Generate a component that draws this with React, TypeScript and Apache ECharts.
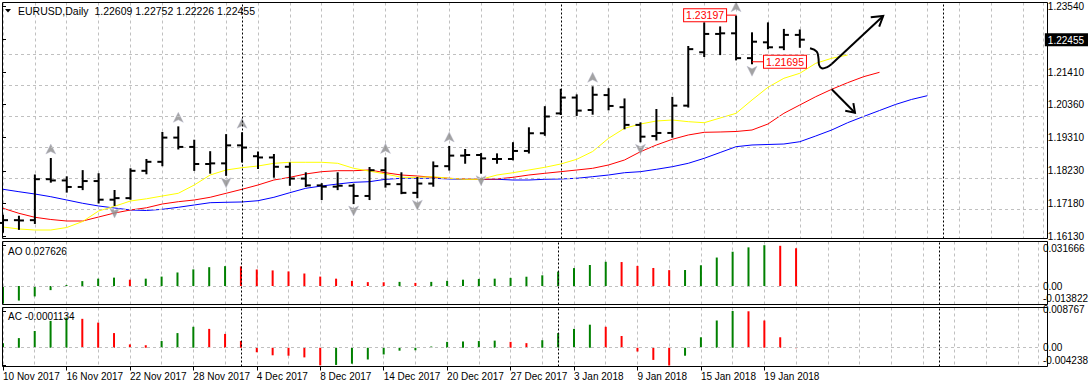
import React, { useEffect, useRef } from 'react';
import * as echarts from 'echarts';

// ---------- DATA ----------
const opens = [1.1655, 1.1664, 1.1664, 1.1796, 1.1792, 1.1771, 1.1790, 1.1730, 1.1735, 1.1823, 1.1852, 1.1930, 1.1900, 1.1845, 1.1847, 1.1905, 1.1870, 1.1866, 1.1836, 1.1798, 1.1776, 1.1772, 1.1775, 1.1742, 1.1825, 1.1780, 1.1752, 1.1782, 1.1838, 1.1872, 1.1874, 1.1861, 1.1861, 1.1887, 1.1944, 1.2008, 1.2059, 1.2019, 1.2067, 1.2028, 1.1971, 1.1935, 1.1945, 1.2033, 1.2205, 1.2264, 1.2266, 1.2186, 1.2237, 1.2221, 1.22609];
const highs = [1.1678, 1.1675, 1.1808, 1.1861, 1.1802, 1.1822, 1.1812, 1.1758, 1.1828, 1.1858, 1.1945, 1.1963, 1.1920, 1.1883, 1.1938, 1.1944, 1.1882, 1.1874, 1.1847, 1.1815, 1.1780, 1.1815, 1.1778, 1.1832, 1.1863, 1.1815, 1.1800, 1.1850, 1.1900, 1.1890, 1.1877, 1.1876, 1.1912, 1.1960, 1.2028, 1.2084, 1.2066, 1.2092, 1.2086, 1.2053, 1.1976, 1.2019, 1.2058, 1.2222, 1.2298, 1.2285, 1.23197, 1.2266, 1.2298, 1.2277, 1.22752];
const lows = [1.1627, 1.1636, 1.1655, 1.1788, 1.1756, 1.1764, 1.1721, 1.1713, 1.1733, 1.1815, 1.1841, 1.1895, 1.1826, 1.1817, 1.1810, 1.1853, 1.1832, 1.1804, 1.1778, 1.1774, 1.1732, 1.1764, 1.1719, 1.1732, 1.1772, 1.1751, 1.1738, 1.1775, 1.1827, 1.1849, 1.1817, 1.1849, 1.1860, 1.1882, 1.1939, 1.2006, 1.2003, 1.2007, 1.2021, 1.1960, 1.1918, 1.1924, 1.1933, 1.2030, 1.2193, 1.2199, 1.2182, 1.21695, 1.2218, 1.2215, 1.22226];
const closes = [1.1664, 1.1663, 1.1796, 1.1792, 1.1771, 1.1790, 1.1730, 1.1735, 1.1823, 1.1852, 1.1930, 1.1900, 1.1845, 1.1847, 1.1905, 1.1898, 1.1866, 1.1836, 1.1798, 1.1776, 1.1772, 1.1775, 1.1742, 1.1825, 1.1780, 1.1752, 1.1782, 1.1838, 1.1872, 1.1874, 1.1863, 1.1861, 1.1887, 1.1944, 1.1998, 1.2059, 1.2017, 1.2068, 1.2032, 1.1971, 1.1933, 1.1945, 1.2033, 1.2215, 1.2264, 1.2266, 1.2186, 1.2239, 1.2221, 1.22609, 1.22455];

const fractalUp = [3, 11, 15, 24, 28, 37, 46];
const fractalDown = [7, 14, 22, 26, 30, 40, 47];

// Alligator lines [bar index, price]
const jaw = [[0,1.17635],[1,1.17557],[2,1.17483],[3,1.17396],[4,1.1729],[5,1.17184],[6,1.17097],[7,1.17032],[8,1.16968],[9,1.16952],[10,1.1699],[11,1.17055],[12,1.17129],[13,1.17203],[14,1.17216],[15,1.17226],[16,1.17267],[17,1.17377],[18,1.17525],[19,1.17667],[20,1.17741],[21,1.17805],[22,1.1786],[23,1.1788],[24,1.17957],[25,1.17989],[26,1.17989],[27,1.17989],[28,1.17967],[29,1.17957],[30,1.17957],[31,1.17957],[32,1.17934],[33,1.17934],[34,1.17957],[35,1.17967],[36,1.17989],[37,1.18041],[38,1.18095],[39,1.18169],[40,1.18202],[41,1.18279],[42,1.18363],[43,1.18472],[44,1.18633],[45,1.1882],[46,1.19007],[47,1.19062],[48,1.19078],[49,1.19094],[50,1.19168],[51,1.19352],[52,1.19545],[53,1.1978],[54,1.1998],[55,1.20173],[56,1.20367],[57,1.20528],[58,1.2065]];
const teeth = [[0,1.17023],[1,1.16861],[2,1.16733],[3,1.16662],[4,1.16613],[5,1.16613],[6,1.16742],[7,1.16871],[8,1.16968],[9,1.17039],[10,1.17161],[11,1.17235],[12,1.1729],[13,1.17377],[14,1.17506],[15,1.17635],[16,1.17773],[17,1.17934],[18,1.18021],[19,1.18128],[20,1.18202],[21,1.18234],[22,1.18234],[23,1.18256],[24,1.18169],[25,1.18095],[26,1.18063],[27,1.18021],[28,1.17989],[29,1.17967],[30,1.17957],[31,1.17967],[32,1.18021],[33,1.18095],[34,1.1815],[35,1.18202],[36,1.18256],[37,1.18311],[38,1.18418],[39,1.18579],[40,1.18846],[41,1.19062],[42,1.19246],[43,1.19384],[44,1.19471],[45,1.19481],[46,1.19497],[47,1.19545],[48,1.19738],[49,1.20083],[50,1.20351],[51,1.20618],[52,1.20856],[53,1.21069],[54,1.21262],[55,1.21404]];
const lips = [[0,1.1642],[1,1.16356],[2,1.16323],[3,1.16323],[4,1.16404],[5,1.16597],[6,1.16936],[7,1.17087],[8,1.17258],[9,1.17329],[10,1.17419],[11,1.17506],[12,1.17773],[13,1.18095],[14,1.18256],[15,1.18331],[16,1.18385],[17,1.18472],[18,1.18505],[19,1.18505],[20,1.18505],[21,1.18472],[22,1.18311],[24,1.18128],[25,1.18021],[26,1.18021],[27,1.18041],[28,1.17989],[29,1.17957],[30,1.17957],[31,1.18095],[32,1.18169],[33,1.18256],[34,1.18343],[35,1.1845],[36,1.18601],[37,1.18852],[38,1.19278],[39,1.196],[40,1.19738],[41,1.19835],[42,1.19867],[43,1.19813],[44,1.1978],[46,1.20083],[47,1.20512],[48,1.20921],[49,1.21211],[50,1.21372],[51,1.21694],[52,1.21855],[53,1.21961]];

const aoValues = [-0.0135, -0.0113, -0.0081, -0.0032, 0.0008, 0.0038, 0.0057, 0.0065, 0.0049, 0.0057, 0.0073, 0.0105, 0.0129, 0.0146, 0.0154, 0.0152, 0.0129, 0.0121, 0.0113, 0.0097, 0.0073, 0.0057, 0.004, 0.003, 0.0029, 0.0032, 0.0024, 0.0032, 0.004, 0.0049, 0.0055, 0.0057, 0.0063, 0.0072, 0.0083, 0.0112, 0.0139, 0.0163, 0.0188, 0.0186, 0.0156, 0.014, 0.0123, 0.0124, 0.0161, 0.0221, 0.0266, 0.03, 0.031666, 0.0312, 0.0293];
const acValues = [0.0011, 0.0023, 0.004, 0.0064, 0.0072, 0.0069, 0.006, 0.0035, 0.0008, 0.0006, 0.0016, 0.0035, 0.005, 0.0045, 0.0033, 0.0016, -0.0011, -0.0018, -0.0019, -0.0023, -0.0042, -0.0041, -0.0038, -0.0028, -0.0016, -0.0007, -0.0006, 0.0003, 0.0014, 0.0015, 0.0016, 0.0017, 0.0014, 0.0011, 0.0018, 0.0035, 0.0045, 0.0055, 0.005, 0.0028, -0.0009, -0.0029, -0.004238, -0.0019, 0.0025, 0.0065, 0.008767, 0.0087, 0.0065, 0.0025, -0.0001134];

const dateTicks = [0, 4, 8, 12, 16, 20, 24, 28, 32, 36, 40, 44, 48];
const dateLabels = ['10 Nov 2017', '16 Nov 2017', '22 Nov 2017', '28 Nov 2017', '4 Dec 2017', '8 Dec 2017', '14 Dec 2017', '20 Dec 2017', '27 Dec 2017', '3 Jan 2018', '9 Jan 2018', '15 Jan 2018', '19 Jan 2018'];
const priceLabels = [1.1613, 1.1718, 1.1823, 1.1931, 1.2036, 1.2141, 1.22455, 1.2354];
const priceGrid = [1.1613, 1.1718, 1.1823, 1.1931, 1.2036, 1.2141, 1.2249];
const currentPrice = 1.22455;
const aoTicks = [-0.013822, 0, 0.031666];
const acTicks = [-0.004238, 0, 0.008767];
const separators = [15, 35, 59];

const titleText = 'EURUSD,Daily  1.22609 1.22752 1.22226 1.22455';
const aoTitle = 'AO 0.027626';
const acTitle = 'AC -0.0001134';

// hand-drawn annotations [bar index, price]
const swoopCurve = [[50.64,1.22177],[51.06,1.22068],[51.17,1.21855],[51.21,1.21639],[51.38,1.21533],[51.69,1.21565],[52.0,1.21671]];
const swoopTip = [55.23, 1.23218];
const swoopHead = [[54.45,1.2318],[55.23,1.23218],[54.98,1.22873]];
const downArrow = [[52.0,1.20857],[53.46,1.20103]];
const downHead = [[52.85,1.20165],[53.46,1.20103],[53.36,1.2041]];

// ---------- LAYOUT ----------
const FONT = "'Liberation Sans', Arial, sans-serif";
const X_MIN = 0, X_MAX = 65.25;
const GL = 3, GW = 1044;
const MAIN = { top: 2.5, height: 236, min: 1.1604946, max: 1.2365276 };
const AO = { top: 241.5, height: 63, min: -0.014361, max: 0.034544 };
const AC = { top: 307.5, height: 59, min: -0.004473, max: 0.009602 };
const GRID_COLOR = '#c0c0c0';

const gridLine = { lineStyle: { color: GRID_COLOR, type: [3, 3], width: 1 } };
const sepLine = { lineStyle: { color: '#000', type: [2, 2], width: 1 } };

function xAxisSplit(gridIndex: number) {
  return {
    type: 'value', gridIndex, min: X_MIN, max: X_MAX, interval: 2,
    axisLine: { show: false }, axisTick: { show: false }, axisLabel: { show: false },
    splitLine: { show: true, lineStyle: { color: GRID_COLOR, type: [3, 3], width: 1 } },
  };
}

function subAxis(gridIndex: number, g: any, ticks: number[], pads: any) {
  return {
    type: 'value', gridIndex, position: 'right', min: g.min, max: g.max,
    axisLine: { show: false }, splitLine: { show: false },
    axisTick: { show: true, customValues: ticks, length: 3, lineStyle: { color: '#000' } },
    axisLabel: {
      customValues: ticks, margin: 2, fontFamily: FONT, fontSize: 10, color: '#000',
      formatter: (v: number) => {
        const s = v === 0 ? '0.00' : v.toFixed(6);
        if (Math.abs(v - ticks[2]) < 1e-9) return `{t|${s}}`;
        if (Math.abs(v - ticks[0]) < 1e-9) return `{b|${s}}`;
        return `{n|${s}}`;
      },
      rich: {
        n: { padding: [0, 0, 0, 3], fontFamily: FONT, fontSize: 10, color: '#000' },
        t: { padding: pads.t, fontFamily: FONT, fontSize: 10, color: '#000' },
        b: { padding: pads.b, fontFamily: FONT, fontSize: 10, color: '#000' },
      },
    },
  };
}

function histColors(vals: number[]) {
  return vals.map((v, i) => ({
    value: [i, v],
    itemStyle: { color: i === 0 || v > vals[i - 1] ? '#008000' : '#ff0000' },
  }));
}

function sepMarks() {
  return separators.map((s) => ({ xAxis: s, ...sepLine }));
}

export default function App() {
  const ref = useRef<HTMLDivElement>(null);
  useEffect(() => {
    const chart = echarts.init(ref.current!, null, { renderer: 'svg' });
    const ohlc = opens.map((o, i) => [i, o, highs[i], lows[i], closes[i]]);

    const option: any = {
      animation: false,
      backgroundColor: '#fff',
      grid: [
        { left: GL, width: GW, top: MAIN.top, height: MAIN.height, show: false },
        { left: GL, width: GW, top: AO.top, height: AO.height, show: false },
        { left: GL, width: GW, top: AC.top, height: AC.height, show: false },
      ],
      xAxis: [
        xAxisSplit(0),
        xAxisSplit(1),
        xAxisSplit(2),
        {
          type: 'value', gridIndex: 2, min: X_MIN, max: X_MAX, position: 'bottom',
          axisLine: { show: false }, splitLine: { show: false },
          axisTick: { show: true, customValues: dateTicks, length: 4, lineStyle: { color: '#000' } },
          axisLabel: {
            customValues: dateTicks, align: 'left', margin: 5, fontFamily: FONT, fontSize: 10, color: '#000',
            formatter: (v: number) => dateLabels[dateTicks.indexOf(Math.round(v))] ?? '',
          },
        },
      ],
      yAxis: [
        {
          type: 'value', gridIndex: 0, position: 'right', min: MAIN.min, max: MAIN.max,
          axisLine: { show: false }, splitLine: { show: false },
          axisTick: { show: true, customValues: priceLabels, length: 3, lineStyle: { color: '#000' } },
          axisLabel: {
            customValues: priceLabels, margin: 2, fontFamily: FONT, fontSize: 10, color: '#000',
            formatter: (v: number) =>
              Math.abs(v - currentPrice) < 1e-7 ? `{cur|${v.toFixed(5)}}` : `{n|${v.toFixed(5)}}`,
            rich: {
              n: { padding: [0, 0, 0, 3], fontFamily: FONT, fontSize: 10, color: '#000' },
              cur: { padding: [2, 4, 1, 3], backgroundColor: '#000', color: '#fff', fontFamily: FONT, fontSize: 10 },
            },
          },
        },
        subAxis(1, AO, aoTicks, { t: [6, 0, 0, 3], b: [0, 0, 11, 3] }),
        subAxis(2, AC, acTicks, { t: [0, 0, 3, 3], b: [0, 0, 11, 3] }),
      ],
      series: [
        {
          type: 'line', xAxisIndex: 0, yAxisIndex: 0, z: 1, silent: true,
          data: ohlc.map((d) => [d[0], d[4]]), showSymbol: false, symbol: 'none',
          lineStyle: { opacity: 0 },
          markLine: {
            silent: true, symbol: ['none', 'none'], label: { show: false }, animation: false,
            data: [...priceGrid.map((p) => ({ yAxis: p, ...gridLine })), ...sepMarks()],
          },
        },
        { type: 'line', xAxisIndex: 0, yAxisIndex: 0, z: 3, data: jaw, symbol: 'none', lineStyle: { color: '#0000ff', width: 1 } },
        { type: 'line', xAxisIndex: 0, yAxisIndex: 0, z: 3, data: teeth, symbol: 'none', lineStyle: { color: '#ff0000', width: 1 } },
        { type: 'line', xAxisIndex: 0, yAxisIndex: 0, z: 3, data: lips, symbol: 'none', lineStyle: { color: '#ffff00', width: 1 } },
        {
          type: 'custom', xAxisIndex: 0, yAxisIndex: 0, z: 5, data: ohlc,
          encode: { x: 0, y: [1, 2, 3, 4] },
          renderItem: (params: any, api: any) => {
            const x = api.value(0);
            const ph = api.coord([x, api.value(2)]);
            const pl = api.coord([x, api.value(3)]);
            const po = api.coord([x, api.value(1)]);
            const pc = api.coord([x, api.value(4)]);
            const st = { stroke: '#000', lineWidth: 2 };
            return {
              type: 'group',
              children: [
                { type: 'line', shape: { x1: ph[0], y1: ph[1] - 1, x2: pl[0], y2: pl[1] + 1 }, style: st },
                { type: 'line', shape: { x1: po[0] - 5, y1: po[1], x2: po[0], y2: po[1] }, style: st },
                { type: 'line', shape: { x1: pc[0], y1: pc[1], x2: pc[0] + 5, y2: pc[1] }, style: st },
              ],
            };
          },
        },
        {
          type: 'scatter', xAxisIndex: 0, yAxisIndex: 0, z: 4,
          data: fractalUp.map((i) => [i, highs[i]]),
          symbol: 'path://M5,0 L10,10 L5,7.5 L0,10 Z', symbolSize: [10, 10], symbolOffset: [0, -10],
          itemStyle: { color: '#8c8c8c', borderColor: '#b8b8d0', borderWidth: 0.5 },
        },
        {
          type: 'scatter', xAxisIndex: 0, yAxisIndex: 0, z: 4,
          data: fractalDown.map((i) => [i, lows[i]]),
          symbol: 'path://M0,0 L5,2.5 L10,0 L5,10 Z', symbolSize: [10, 10], symbolOffset: [0, 8],
          itemStyle: { color: '#8c8c8c', borderColor: '#b8b8d0', borderWidth: 0.5 },
        },
        {
          type: 'bar', xAxisIndex: 1, yAxisIndex: 1, barWidth: 2, z: 3, data: histColors(aoValues),
          markLine: {
            silent: true, symbol: ['none', 'none'], label: { show: false }, animation: false,
            data: [{ yAxis: 0, ...gridLine }, ...sepMarks()],
          },
        },
        {
          type: 'bar', xAxisIndex: 2, yAxisIndex: 2, barWidth: 2, z: 3, data: histColors(acValues),
          markLine: {
            silent: true, symbol: ['none', 'none'], label: { show: false }, animation: false,
            data: [{ yAxis: 0, ...gridLine }, ...sepMarks()],
          },
        },
      ],
    };
    chart.setOption(option);

    const px = (p: number[]) => chart.convertToPixel({ gridIndex: 0 } as any, p) as number[];
    const blk = { stroke: '#000', lineWidth: 2, fill: 'none' };
    const hi = px([46, highs[46]]);
    const lo = px([47, lows[47]]);
    const curve = swoopCurve.map(px);
    const tip = px(swoopTip);
    const graphics: any[] = [
      { type: 'rect', shape: { x: 2.5, y: 2.5, width: 1045, height: 236 }, style: { fill: 'none', stroke: '#000', lineWidth: 1 }, z: 100 },
      { type: 'rect', shape: { x: 2.5, y: 241.5, width: 1045, height: 63 }, style: { fill: 'none', stroke: '#000', lineWidth: 1 }, z: 100 },
      { type: 'rect', shape: { x: 2.5, y: 307.5, width: 1045, height: 59 }, style: { fill: 'none', stroke: '#000', lineWidth: 1 }, z: 100 },
      { type: 'polygon', shape: { points: [[5, 9], [11, 9], [8, 12.5]] }, style: { fill: '#000' }, z: 100 },
      { type: 'text', x: 18, y: 11, style: { text: titleText, fill: '#000', font: `10.5px ${FONT}`, verticalAlign: 'middle' }, z: 100 },
      { type: 'text', x: 8, y: 251.5, style: { text: aoTitle, fill: '#000', font: `10px ${FONT}`, verticalAlign: 'middle' }, z: 100 },
      { type: 'text', x: 8, y: 316, style: { text: acTitle, fill: '#000', font: `10px ${FONT}`, verticalAlign: 'middle' }, z: 100 },
      // high / low labels
      { type: 'line', shape: { x1: hi[0] - 10, y1: hi[1] - 1.5, x2: hi[0], y2: hi[1] - 1.5 }, style: { stroke: '#ff0000', lineWidth: 1 }, z: 90 },
      { type: 'text', x: hi[0] - 10, y: hi[1] - 1.5, style: { text: highs[46].toFixed(5), fill: '#ff0000', font: `10.5px ${FONT}`, align: 'right', verticalAlign: 'middle', backgroundColor: '#fff', borderColor: '#ff0000', borderWidth: 1, padding: [1, 2, 0, 2] }, z: 90 },
      { type: 'line', shape: { x1: lo[0], y1: lo[1] - 1.5, x2: lo[0] + 12, y2: lo[1] - 1.5 }, style: { stroke: '#ff0000', lineWidth: 1 }, z: 90 },
      { type: 'text', x: lo[0] + 12, y: lo[1] - 1.5, style: { text: lows[47].toFixed(5), fill: '#ff0000', font: `10.5px ${FONT}`, align: 'left', verticalAlign: 'middle', backgroundColor: '#fff', borderColor: '#ff0000', borderWidth: 1, padding: [1, 2, 0, 2] }, z: 90 },
      // annotations
      { type: 'polyline', shape: { points: curve, smooth: 0.4 }, style: blk, z: 95 },
      { type: 'line', shape: { x1: curve[curve.length - 1][0], y1: curve[curve.length - 1][1], x2: tip[0], y2: tip[1] }, style: blk, z: 95 },
      { type: 'polyline', shape: { points: swoopHead.map(px) }, style: blk, z: 95 },
      { type: 'polyline', shape: { points: downArrow.map(px) }, style: blk, z: 95 },
      { type: 'polyline', shape: { points: downHead.map(px) }, style: blk, z: 95 },
    ];
    chart.setOption({ graphic: graphics });
    return () => chart.dispose();
  }, []);
  return (
    <div
      ref={ref}
      style={{ position: 'fixed', left: 0, top: 0, width: 1091, height: 382, background: '#fff' }}
    />
  );
}
